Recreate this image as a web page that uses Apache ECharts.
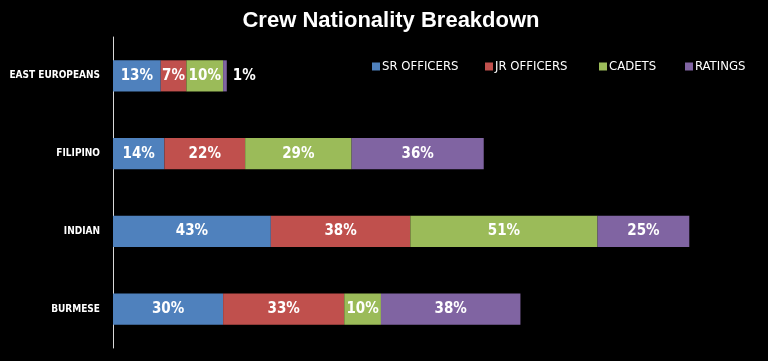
<!DOCTYPE html>
<html><head><meta charset="utf-8">
<script src="https://cdn.jsdelivr.net/npm/echarts@6/dist/echarts.min.js"></script>
<style>html,body{margin:0;padding:0;background:#000;}#c{width:768px;height:361px;}</style>
</head><body><div id="c"></div>
<script>
const categories = ['EAST EUROPEANS', 'FILIPINO', 'INDIAN', 'BURMESE'];
const seriesNames = ['SR OFFICERS', 'JR OFFICERS', 'CADETS', 'RATINGS'];
const srOfficers = [13, 14, 43, 30];
const jrOfficers = [7, 22, 38, 33];
const cadets = [10, 29, 51, 10];
const ratings = [1, 36, 25, 38];
const colors = ['#4F81BD', '#C0504D', '#9BBB59', '#8064A2'];
const seriesData = [srOfficers, jrOfficers, cadets, ratings];
const legendLefts = [372, 485, 599, 685];
const labelFont = '"DejaVu Sans Condensed", "Liberation Sans", sans-serif';

const chart = echarts.init(document.getElementById('c'));
chart.setOption({
  backgroundColor: '#000',
  animation: false,
  title: {
    text: 'Crew Nationality Breakdown',
    left: 391, top: 10, textAlign: 'center', padding: 0,
    textStyle: {color: '#fff', fontSize: 22, fontWeight: 'bold', fontFamily: '"Liberation Sans", Arial, sans-serif'}
  },
  legend: seriesNames.map((n, i) => ({
    data: [n],
    left: legendLefts[i], top: 60, padding: 0,
    itemWidth: 8, itemHeight: 8, itemGap: 0,
    icon: 'rect',
    textStyle: {color: '#fff', fontSize: 13, fontFamily: labelFont, padding: [0,0,0,-3]}
  })),
  grid: {left: 113, top: 37, height: 311, right: 31, containLabel: false, outerBoundsMode: 'none'},
  xAxis: {type: 'value', min: 0, max: 170, show: false},
  yAxis: {
    type: 'category', data: categories, inverse: true,
    axisLine: {show: true, lineStyle: {color: '#d9d9d9', width: 1}},
    axisTick: {show: false},
    axisLabel: {color: '#fff', fontSize: 10, fontWeight: 'bold', fontFamily: labelFont, margin: 13}
  },
  series: seriesNames.map((name, i) => ({
    name, type: 'bar', stack: 'total', barWidth: '40%',
    itemStyle: {color: colors[i]},
    label: {show: true, position: 'inside', color: '#fff', fontSize: 15, fontWeight: 'bold', fontFamily: labelFont,
      formatter: p => p.value + '%'},
    data: seriesData[i].map((v, j) => (i === 3 && j === 0)
      ? {value: v, label: {position: 'right', distance: 6}}
      : v)
  }))
});
</script></body></html>
